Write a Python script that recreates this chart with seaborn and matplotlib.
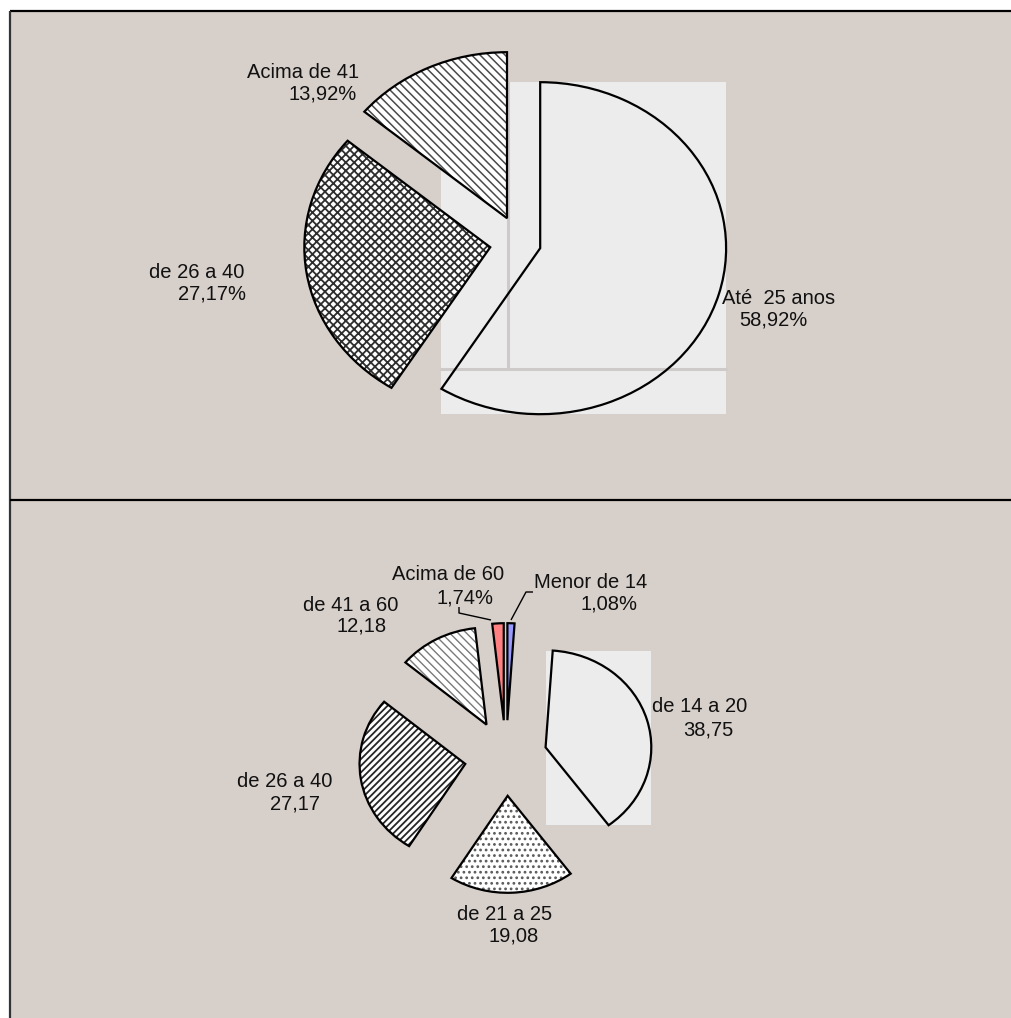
import numpy as np
import matplotlib
matplotlib.use("Agg")
import matplotlib.pyplot as plt
import seaborn as sns
from matplotlib.patches import Rectangle
from matplotlib.lines import Line2D

sns.set_style("white")
plt.rcParams['font.family'] = ['Liberation Sans', 'DejaVu Sans']
plt.rcParams['hatch.linewidth'] = 1.0

# ---------------- data ----------------
top_labels = ["Até  25 anos", "de 26 a 40", "Acima de 41"]
top_values = [58.92, 27.17, 13.92]
top_pcts = ["58,92%", "27,17%", "13,92%"]

bot_labels = ["Menor de 14", "de 14 a 20", "de 21 a 25", "de 26 a 40", "de 41 a 60", "Acima de 60"]
bot_values = [1.08, 38.75, 19.08, 27.17, 12.18, 1.74]
bot_pcts = ["1,08%", "38,75", "19,08", "27,17", "12,18", "1,74%"]

# ---------------- styles ----------------
W, H, DPI = 1011, 1018, 100
BG = '#D7CFCA'
TEX = '#ECECEC'
FS = 14.5

fig = plt.figure(figsize=(W / DPI, H / DPI), dpi=DPI, facecolor='white')
fig.add_artist(Rectangle((10 / W, 0), (W - 10) / W, (H - 11) / H,
                         transform=fig.transFigure, facecolor=BG,
                         edgecolor='none', zorder=0))


def fline(xs, ys, color='black', lw=1.5, z=5):
    fig.add_artist(Line2D([x / W for x in xs], [1 - y / H for y in ys],
                          transform=fig.transFigure, color=color, lw=lw,
                          zorder=z, solid_capstyle='butt'))


def ftext(px, py, s):
    fig.text(px / W, 1 - py / H, s, ha='left', va='baseline', fontsize=FS,
             color='#111111', zorder=6)


def make_pie(y0, y1, sx, cx, cy, ry, values, explode, faces, hatches, hcolors, hlws):
    ax = fig.add_axes([10 / W, 1 - y1 / H, (W - 10) / W, (y1 - y0) / H])
    ax.patch.set_alpha(0)
    center = (cx / sx, H - cy)
    expl = [e * ry for e in explode]
    wedges, _ = ax.pie(values, startangle=90, counterclock=False,
                       explode=expl, radius=ry, center=center,
                       colors=faces, wedgeprops=dict(linewidth=0))
    for w, h, hc, hl in zip(wedges, hatches, hcolors, hlws):
        if h:
            w.set_hatch(h)
            w.set_edgecolor(hc)
            if hasattr(w, 'set_hatch_linewidth'):
                w.set_hatch_linewidth(hl)
        w.set_linewidth(0)
    outl, _ = ax.pie(values, startangle=90, counterclock=False,
                     explode=expl, radius=ry, center=center,
                     colors=['none'] * len(values),
                     wedgeprops=dict(linewidth=1.6, edgecolor='black'))
    for o in outl:
        o.set_zorder(2)
    ax.set_aspect('auto')
    ax.set_xlim(10 / sx, W / sx)
    ax.set_ylim(H - y1, H - y0)
    ax.axis('off')
    return ax, wedges


# ---------------- top panel ----------------
sx_t = 1.12
ax_t, wt = make_pie(11, 500, sx_t, 520, 243, 166, top_values,
                    [0.113, 0.162, 0.165],
                    [TEX, 'white', 'white'],
                    [None, 'xxxx', '\\\\\\\\'],
                    [None, '#2e2e2e', '#4a4a4a'],
                    [1, 1.3, 1.1])
ext = wt[0].get_path().get_extents()
ax_t.add_patch(Rectangle((ext.x0, ext.y0), ext.width, ext.height,
                         facecolor=TEX, edgecolor='none', zorder=0.5))
xv = ext.x0 + 0.234 * ext.width
yh = ext.y1 - 0.863 * ext.height
ax_t.plot([xv, xv], [ext.y1, yh], color='#CFCACA', lw=2.2, zorder=1.5)
ax_t.plot([ext.x0, ext.x1], [yh, yh], color='#CFCACA', lw=2.2, zorder=1.5)

# ---------------- bottom panel ----------------
sx_b = 1.09
ax_b, wb = make_pie(500, H, sx_b, 506, 758, 97, bot_values,
                    [0.39] * 6,
                    ['#9999FF', TEX, 'white', 'white', 'white', '#FF8080'],
                    [None, None, '...', '/////', '\\\\\\\\', None],
                    [None, None, '#5a5a5a', '#262626', '#7a7a7a', None],
                    [1, 1, 1.2, 1.3, 1.0, 1])
ext = wb[1].get_path().get_extents()
ax_b.add_patch(Rectangle((ext.x0, ext.y0), ext.width, ext.height,
                         facecolor=TEX, edgecolor='none', zorder=0.5))

# ---------------- frame lines ----------------
fline([10, W], [11, 11], lw=1.6)
fline([10, 10], [11, H], color='#333333', lw=1.6)
fline([10, W], [500, 500], lw=1.6)

# ---------------- labels ----------------
ftext(247, 78, top_labels[2]); ftext(288, 100, top_pcts[2])
ftext(149, 278, top_labels[1]); ftext(178, 300, top_pcts[1])
ftext(722, 304, top_labels[0]); ftext(739, 326, top_pcts[0])

ftext(392, 580, bot_labels[5]); ftext(436, 603, bot_pcts[5])
ftext(534, 588, bot_labels[0]); ftext(580, 610, bot_pcts[0])
ftext(303, 611, bot_labels[4]); ftext(337, 632, bot_pcts[4])
ftext(652, 712, bot_labels[1]); ftext(683, 735, bot_pcts[1])
ftext(237, 787, bot_labels[3]); ftext(270, 810, bot_pcts[3])
ftext(457, 920, bot_labels[2]); ftext(488, 942, bot_pcts[2])

# leader lines
fline([459, 459, 491], [607, 613, 620], lw=1.0)
fline([511, 526, 533], [620, 592, 592], lw=1.0)

fig.savefig('out.png', dpi=DPI, facecolor='white')
